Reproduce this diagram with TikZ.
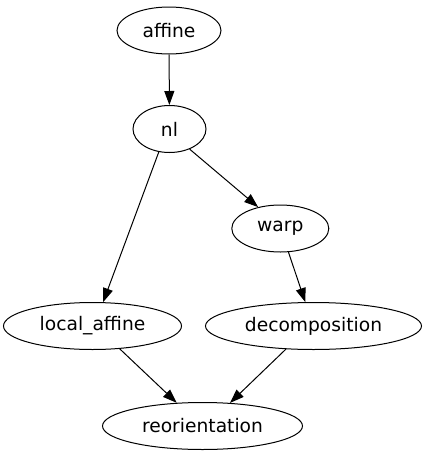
\documentclass[tikz,border=0pt]{standalone}
\usepackage{fontspec}
\setmainfont{DejaVu Sans}
\usetikzlibrary{shapes.geometric,arrows.meta}
\begin{document}
\begin{tikzpicture}[x=1pt,y=-1pt,
  gnode/.style={ellipse,draw=black,line width=1pt,inner sep=0pt,minimum height=47pt,
    font=\fontsize{18.67}{22}\selectfont},
  gedge/.style={draw=black,line width=1pt,-{Triangle[length=14pt,width=10pt]}}]
\useasboundingbox (0,0) rectangle (427,456);
\node[gnode,minimum width=104pt] (affine) at (169,30.5) {affine};
\node[gnode,minimum width=73pt] (nl) at (169.5,129) {nl};
\node[gnode,minimum width=97pt] (warp) at (280.3,228.5) {warp};
\node[gnode,minimum width=178pt] (local) at (92.5,326) {local\_affine};
\node[gnode,minimum width=216pt] (decomp) at (313.5,326) {decomposition};
\node[gnode,minimum width=200pt] (reor) at (202.5,426) {reorientation};
\draw[gedge] (affine) -- (nl);
\draw[gedge] (nl.245.6) -- (local.66.7);
\draw[gedge] (nl.315.6) -- (warp.136);
\draw[gedge] (warp.289) -- (decomp.109.6);
\draw[gedge] (local.320.3) -- (reor.138.9);
\draw[gedge] (decomp.220.2) -- (reor.40.8);
\end{tikzpicture}
\end{document}
